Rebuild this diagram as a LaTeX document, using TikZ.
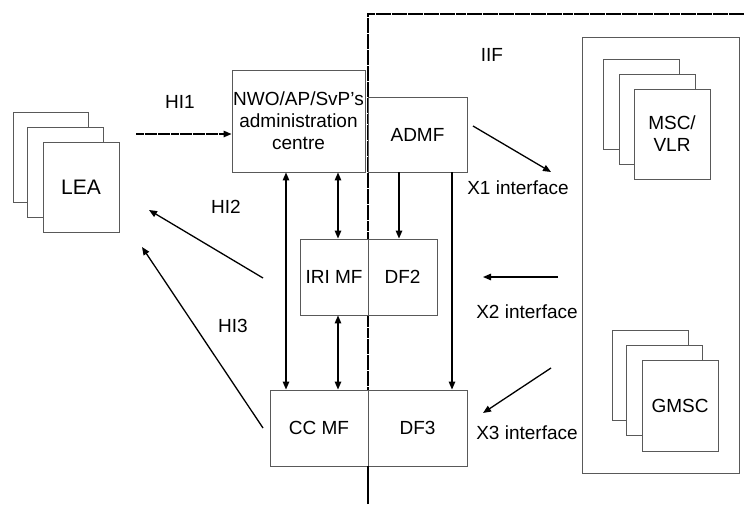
\documentclass[tikz,border=0pt]{standalone}
\usepackage{fontspec}
\setmainfont{Liberation Sans}
\usetikzlibrary{arrows.meta}
\begin{document}
\begin{tikzpicture}[x=1pt,y=-1pt,
  txt/.style={font=\fontsize{19}{22}\selectfont, inner sep=0pt},
  box/.style={draw=black!65, line width=0.9pt, fill=white, inner sep=0pt, font=\fontsize{19}{22}\selectfont, align=center},
  arr/.style={line width=1.3pt, -{Triangle[length=8pt,width=6.5pt]}},
  dbl/.style={line width=1.3pt, {Triangle[length=8pt,width=6.5pt]}-{Triangle[length=8pt,width=6.5pt]}},
  bound/.style={line width=1.8pt, dash pattern=on 5pt off 0.35pt},
  hione/.style={line width=1.3pt, dash pattern=on 4pt off 0.35pt, -{Triangle[length=8pt,width=6.5pt]}}
]
\useasboundingbox (0,0) rectangle (744,504);
\fill[white] (0,0) rectangle (744,504);

% IIF boundary
\coordinate (bt) at (368,14);
\coordinate (bb) at (368,504);
\coordinate (br) at (744,14);
\draw[bound] (bb) -- (bt) -- (br);
\node[txt] (iif) at (492,55) {IIF};

% right container
\node[box, fill=none, minimum width=157pt, minimum height=436pt] (cont) at (660.5,255) {};

% LEA stack
\node[box, minimum width=75pt, minimum height=90pt] (lea3) at (50.5,157) {};
\node[box, minimum width=76pt, minimum height=90pt] (lea2) at (65.5,172) {};
\node[box, minimum width=76pt, minimum height=90pt, font=\fontsize{21}{24}\selectfont] (lea) at (81,187) {LEA};

% MSC stack
\node[box, minimum width=76pt, minimum height=90pt] (msc3) at (641,104) {};
\node[box, minimum width=76pt, minimum height=90pt] (msc2) at (657,119) {};
\node[box, minimum width=76pt, minimum height=90pt] (msc) at (672,134) {MSC/\\VLR};

% GMSC stack
\node[box, minimum width=76pt, minimum height=90pt] (gmsc3) at (650,375) {};
\node[box, minimum width=76pt, minimum height=90pt] (gmsc2) at (664,390) {};
\node[box, minimum width=76pt, minimum height=91pt] (gmsc) at (680,405.5) {GMSC};

% central boxes
\node[box, minimum width=133pt, minimum height=102pt] (nwo) at (298.5,121) {NWO/AP/SvP’s\\administration\\centre};
\node[box, minimum width=99pt, minimum height=75pt] (admf) at (417.5,134.5) {ADMF};
\node[box, minimum width=68pt, minimum height=76pt] (iri) at (334,277) {IRI MF};
\node[box, minimum width=69pt, minimum height=76pt] (df2) at (402.5,277) {DF2};
\node[box, minimum width=98pt, minimum height=76pt] (ccmf) at (319,428) {CC MF};
\node[box, minimum width=99pt, minimum height=76pt] (df3) at (417.5,428) {DF3};
\draw[bound] (368,466) -- (bb);

% vertical connectors
\coordinate (xa) at (286,0);
\coordinate (xb) at (338,0);
\coordinate (xc) at (399,0);
\coordinate (xd) at (452,0);
\draw[dbl] (nwo.south -| xa) -- (ccmf.north -| xa);
\draw[dbl] (nwo.south -| xb) -- (iri.north -| xb);
\draw[dbl] (iri.south -| xb) -- (ccmf.north -| xb);
\draw[arr] (admf.south -| xc) -- (df2.north -| xc);
\draw[arr] (admf.south -| xd) -- (df3.north -| xd);

% HI1
\coordinate (hi1s) at (136,134);
\draw[hione] (hi1s) -- (hi1s -| nwo.west);
\node[txt] (hi1) at (180,102) {HI1};

% HI2 / HI3
\coordinate (hi2s) at (263,278);
\coordinate (hi2e) at (149,210);
\draw[arr] (hi2s) -- (hi2e);
\node[txt] (hi2) at (226,207) {HI2};
\coordinate (hi3s) at (263,428);
\coordinate (hi3e) at (142,247);
\draw[arr] (hi3s) -- (hi3e);
\node[txt] (hi3) at (233,326) {HI3};

% X interfaces
\coordinate (x1s) at (473,126);
\coordinate (x1e) at (551,172);
\draw[arr] (x1s) -- (x1e);
\node[txt] (x1) at (518,188) {X1 interface};
\coordinate (x2s) at (558,277);
\coordinate (x2e) at (483,277);
\draw[arr] (x2s) -- (x2e);
\node[txt] (x2) at (527,312) {X2 interface};
\coordinate (x3s) at (551,368);
\coordinate (x3e) at (483,413);
\draw[arr] (x3s) -- (x3e);
\node[txt] (x3) at (527,433) {X3 interface};
\end{tikzpicture}
\end{document}
